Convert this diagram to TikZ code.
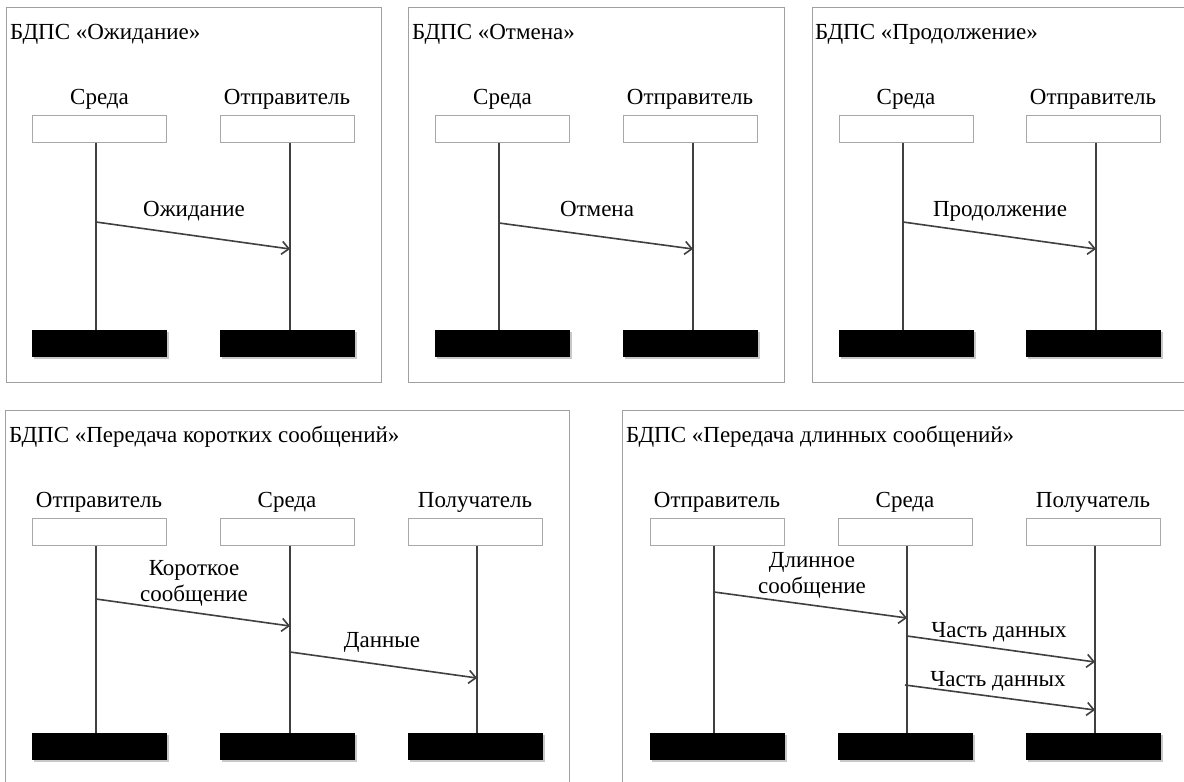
\documentclass[tikz,border=0pt]{standalone}
\usepackage{fontspec}
\setmainfont{Liberation Serif}
\usetikzlibrary{arrows.meta,shadows}
\definecolor{framegray}{HTML}{A0A0A0}
\definecolor{boxgray}{HTML}{A8A8A8}
\definecolor{linegray}{HTML}{404040}
\definecolor{shadowgray}{HTML}{C8C8C8}
\tikzset{
 panel/.style={draw=framegray, line width=1pt},
 ttl/.style={font=\fontspec{Liberation Serif}\fontsize{23}{26}\selectfont, anchor=base west, inner sep=0pt},
 lbl/.style={font=\fontspec{Liberation Serif}\fontsize{23}{26}\selectfont, inner sep=0pt},
 headbox/.style={draw=boxgray, fill=white, line width=1pt, minimum width=134pt, minimum height=27pt, inner sep=0pt},
 endbar/.style={fill=black, minimum width=135pt, minimum height=27pt, inner sep=0pt,
   drop shadow={shadow xshift=2pt, shadow yshift=-2pt, fill=shadowgray, opacity=1}},
 life/.style={draw=linegray, line width=1.6pt},
 msg/.style={draw=linegray, line width=1.6pt, -{Straight Barb[length=7pt,width=13pt,line width=1.6pt]}},
}
% name, box centre x, lifeline x, y offset, label
\newcommand\lifel[5]{%
  \node[lbl, anchor=base] (#1t) at (#2,#4+104) {#5};
  \node[headbox] (#1h) at (#2,#4+128.5) {};
  \node[endbar] (#1e) at (#2,#4+343.5) {};
  \coordinate (#1x) at (#3,#4+200);
  \draw[life] (#1h.south -| #1x) -- (#1e.north -| #1x);
}
\begin{document}
\begin{tikzpicture}[x=1pt,y=-1pt]
\path[use as bounding box, clip] (0,0) rectangle (1184,782);
\fill[white] (0,0) rectangle (1184,782);
% panels
\draw[panel] (6,7) rectangle (381,382);
\draw[panel] (408,7) rectangle (784,382);
\draw[panel] (812,7) rectangle (1200,382);
\draw[panel] (5,410) rectangle (569,800);
\draw[panel] (622,410) rectangle (1200,800);
% titles
\node[ttl] (t1) at (10,39) {БДПС «Ожидание»};
\node[ttl] (t2) at (412,39) {БДПС «Отмена»};
\node[ttl] (t3) at (815,39) {БДПС «Продолжение»};
\node[ttl] (t4) at (9,442) {БДПС «Передача коротких сообщений»};
\node[ttl] (t5) at (626,442) {БДПС «Передача длинных сообщений»};
% lifelines
\lifel{p1a}{99.5}{96}{0}{Среда}
\lifel{p1b}{287}{290}{0}{Отправитель}
\lifel{p2a}{502.5}{499}{0}{Среда}
\lifel{p2b}{690}{693}{0}{Отправитель}
\lifel{p3a}{906}{903}{0}{Среда}
\lifel{p3b}{1093}{1096}{0}{Отправитель}
\lifel{p4a}{99}{96}{403}{Отправитель}
\lifel{p4b}{287}{290}{403}{Среда}
\lifel{p4c}{475}{477}{403}{Получатель}
\lifel{p5a}{717}{714}{403}{Отправитель}
\lifel{p5b}{905}{907}{403}{Среда}
\lifel{p5c}{1093}{1095}{403}{Получатель}
% messages
\coordinate (m1s) at (96,222); \coordinate (m1e) at (290,249);
\draw[msg] (m1s) -- (m1e);
\node[lbl, anchor=base] (m1l) at (194,216) {Ожидание};
\coordinate (m2s) at (499,223); \coordinate (m2e) at (693,249);
\draw[msg] (m2s) -- (m2e);
\node[lbl, anchor=base] (m2l) at (597,216) {Отмена};
\coordinate (m3s) at (903,222); \coordinate (m3e) at (1096,249);
\draw[msg] (m3s) -- (m3e);
\node[lbl, anchor=base] (m3l) at (1000,216) {Продолжение};
\coordinate (m4s) at (96,599); \coordinate (m4e) at (290,626);
\draw[msg] (m4s) -- (m4e);
\node[lbl, anchor=base, align=center] (m4l) at (194,601) {Короткое\\сообщение};
\coordinate (m5s) at (290,652); \coordinate (m5e) at (477,678);
\draw[msg] (m5s) -- (m5e);
\node[lbl, anchor=base] (m5l) at (382,647) {Данные};
\coordinate (m6s) at (714,592); \coordinate (m6e) at (907,618);
\draw[msg] (m6s) -- (m6e);
\node[lbl, anchor=base, align=center] (m6l) at (812,593) {Длинное\\сообщение};
\coordinate (m7s) at (907,636); \coordinate (m7e) at (1095,662);
\draw[msg] (m7s) -- (m7e);
\node[lbl, anchor=base] (m7l) at (999,637) {Часть данных};
\coordinate (m8s) at (905,685); \coordinate (m8e) at (1095,710);
\draw[msg] (m8s) -- (m8e);
\node[lbl, anchor=base] (m8l) at (998,686) {Часть данных};
\end{tikzpicture}
\end{document}
